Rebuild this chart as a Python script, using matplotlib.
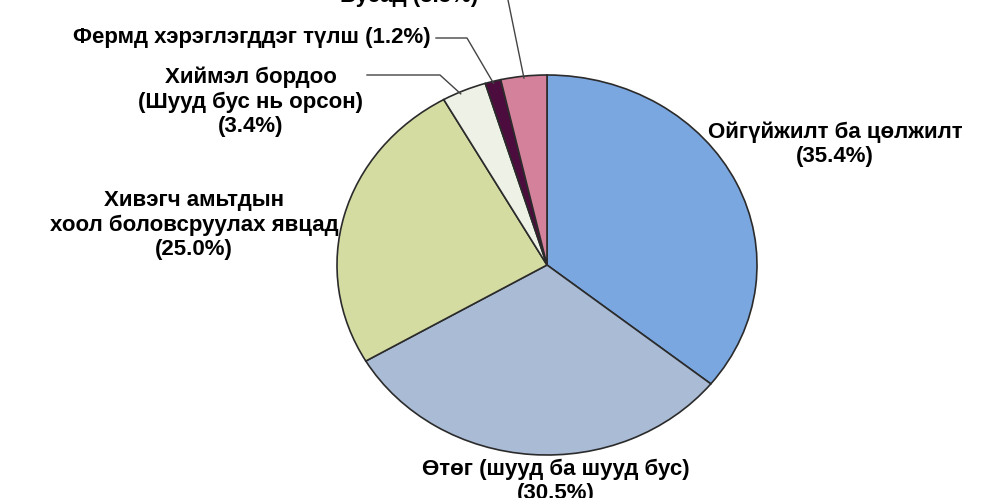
import numpy as np
import matplotlib
matplotlib.use("Agg")
import matplotlib.pyplot as plt

plt.rcParams['font.family'] = ['Liberation Sans', 'DejaVu Sans']

categories = ["Ойгүйжилт ба цөлжилт", "Өтөг (шууд ба шууд бус)",
              "Хивэгч амьтдын\nхоол боловсруулах явцад",
              "Хиймэл бордоо\n(Шууд бус нь орсон)",
              "Фермд хэрэглэгддэг түлш", "Бусад"]
values = [35.4, 30.5, 25.0, 3.4, 1.2, 3.5]
colors = ["#7ba7e1", "#a9bbd5", "#d5dca2", "#eef2e6", "#4d0c3e", "#d4829c"]

W, H = 995, 498
CX, CY, RX, RY = 547, 265, 210, 190

fig = plt.figure(figsize=(W / 100, H / 100), dpi=100)
ax = fig.add_axes([0, 0, 1, 1])

def d(px, py):
    return ((px - CX) / RX, (CY - py) / RY)

wedges, _ = ax.pie(values, colors=colors, startangle=90, counterclock=False,
                   radius=1, center=(0, 0),
                   wedgeprops=dict(edgecolor="#2b2b2b", linewidth=1.2))
ax.set_aspect('auto')
ax.set_xlim(-CX / RX, (W - CX) / RX)
ax.set_ylim((CY - H) / RY, CY / RY)
ax.axis('off')

fs = 16
tk = dict(fontsize=fs, fontweight='bold', color='black', linespacing=1.2)

def lab(i):
    return f"({values[i]:.1f}%)"

ax.text(*d(835, 144), categories[0] + "\n" + lab(0), ha='center', va='center', **tk)
ax.text(*d(556, 481), categories[1] + "\n" + lab(1), ha='center', va='center', **tk)
ax.text(*d(194, 225), categories[2] + "\n" + lab(2), ha='center', va='center', **tk)
ax.text(*d(251, 102), categories[3] + "\n" + lab(3), ha='center', va='center', **tk)
ax.text(*d(431, 38), categories[4] + " " + lab(4), ha='right', va='center', **tk)
ax.text(*d(478, -3), categories[5] + " " + lab(5), ha='right', va='center', **tk)

def edge_point(w, frac):
    a = np.deg2rad(w.theta1 + (w.theta2 - w.theta1) * frac)
    return np.cos(a), np.sin(a)

lk = dict(color="#444444", linewidth=1.0)
# Хиймэл бордоо
ex, ey = edge_point(wedges[3], 0.6)
p1 = d(367, 75); p2 = d(440, 75)
ax.plot([p1[0], p2[0], ex * 0.99], [p1[1], p2[1], ey * 0.99], **lk)
# Фермд
ex, ey = edge_point(wedges[4], 0.5)
p1 = d(436, 38); p2 = d(467, 38)
ax.plot([p1[0], p2[0], ex * 0.99], [p1[1], p2[1], ey * 0.99], **lk)
# Бусад
ex, ey = edge_point(wedges[5], 0.5)
p1 = d(508, 0)
ax.plot([p1[0], ex * 0.99], [p1[1], ey * 0.99], **lk)

fig.savefig("out.png", dpi=100)
